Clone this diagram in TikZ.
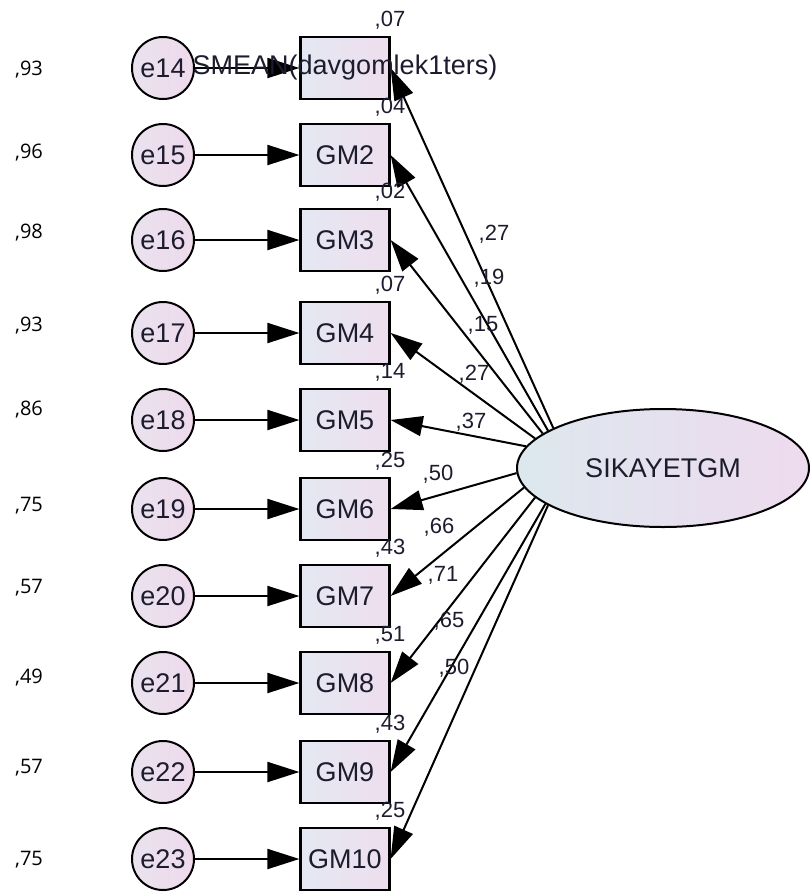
\documentclass[tikz,border=0pt]{standalone}
\usepackage{fontspec}
\setmainfont{Liberation Sans}
\newfontfamily\sidefont{Open Sans}
\usetikzlibrary{shapes.geometric,arrows.meta}
\definecolor{ink}{RGB}{28,28,46}
\definecolor{boxL}{RGB}{228,232,242}
\definecolor{boxR}{RGB}{238,222,238}
\definecolor{errL}{RGB}{234,226,238}
\definecolor{errR}{RGB}{238,218,236}
\definecolor{latL}{RGB}{220,232,238}
\definecolor{latR}{RGB}{238,218,238}
\begin{document}
\begin{tikzpicture}[x=1pt,y=-1pt,
  bigtext/.style={font=\fontsize{27}{27}\selectfont, text=ink},
  obs/.style={rectangle, draw=black, line width=2.2pt, minimum width=89pt,
    minimum height=62pt, inner sep=0pt, left color=boxL, right color=boxR, bigtext},
  err/.style={circle, draw=black, line width=2pt, minimum size=62pt,
    inner sep=0pt, left color=errL, right color=errR, bigtext},
  lat/.style={ellipse, draw=black, line width=2pt, minimum width=292pt,
    minimum height=118pt, inner sep=0pt, left color=latL, right color=latR, bigtext},
  reg/.style={line width=2pt, -{Triangle[length=32pt,width=20pt]}},
  est/.style={font=\fontsize{22}{22}\selectfont, text=ink, inner sep=0pt},
  side/.style={font=\sidefont\fontsize{20}{20}\selectfont, text=black, inner sep=0pt}
]
\useasboundingbox (0,0) rectangle (810,895);

% latent factor
\node[lat] (S) at (663,468) {SIKAYETGM};

% indicators, error terms and estimates
\foreach \i/\y/\e/\sv/\sy/\sm/\ang/\ld/\lx/\ly in {
  1/68/14/93/70/07/160/27/494/234,
  2/155/15/96/153/04/162.8/19/489/278,
  3/240/16/98/233/02/164.7/15/483/325,
  4/333/17/93/326/07/167.7/27/474/374,
  5/420/18/86/410/14/171.9/37/471/422,
  6/509/19/75/506/25/182.7/50/438/474,
  7/596/20/57/588/43/188.1/66/439/527,
  8/683/21/49/678/51/193/71/443/575,
  9/772/22/57/768/43/197/65/449/621,
  10/859/23/75/860/25/198.7/50/454/668}{
  \node[err] (e\i) at (163,\y) {e\e};
  \node[obs] (gm\i) at (345,\y) {\ifnum\i=1 \else GM\i\fi};
  \node[side] (s\i) at (29,\sy) {,\sv};
  \node[est] (r\i) at (390,\y-48) {,\sm};
  \draw[reg] (e\i) -- (gm\i);
  \draw[reg] (S.\ang) -- (gm\i.east);
  \node[est] (l\i) at (\lx,\ly) {,\ld};
}

% variable name of the first indicator, printed over its box
\node[bigtext] (gm1name) at (gm1) {SMEAN(davgomlek1ters)};
\end{tikzpicture}
\end{document}
